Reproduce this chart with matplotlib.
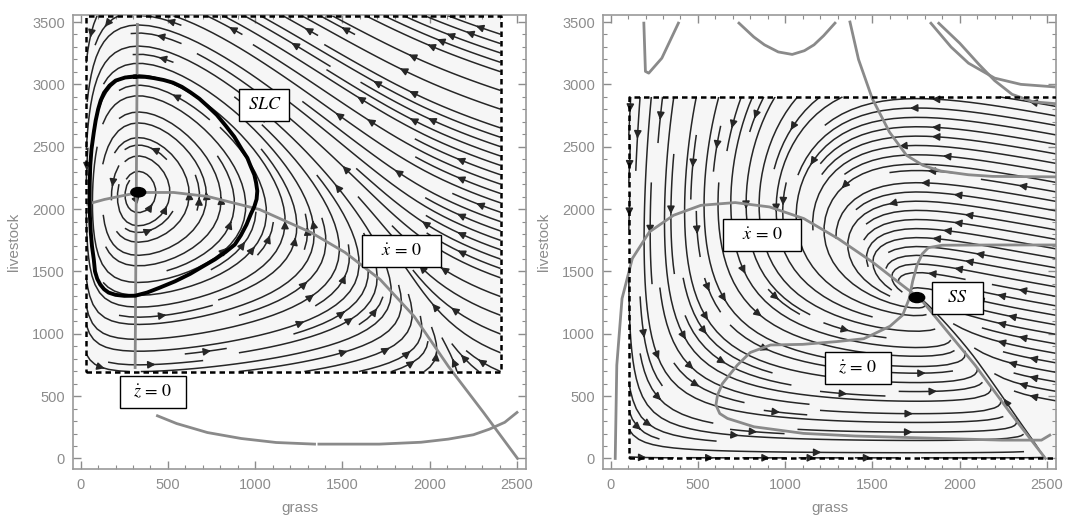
import matplotlib
matplotlib.use("Agg")

import matplotlib.pyplot as plt
import numpy as np
from matplotlib.patches import Ellipse, Rectangle

# ---------------- left panel: stable limit cycle ----------------
left_xdot_x = [40, 136, 331, 533, 728, 1024, 1320, 1515, 1716, 1911, 2107, 2308, 2503]
left_xdot_y = [2040, 2077, 2133, 2133, 2101, 1997, 1812, 1652, 1435, 1139, 738, 369, 0]

left_zdot_x = [312, 325]
left_zdot_y = [729, 3481]

left_low_a_x = [440, 550, 726, 920, 1120, 1340]
left_low_a_y = [342, 280, 208, 160, 128, 115]
left_low_b_x = [1365, 1711, 1950, 2106, 2250, 2342, 2430, 2500]
left_low_b_y = [115, 115, 130, 155, 190, 235, 290, 369]

slc_x = [312, 370, 420, 475, 528, 580, 630, 680, 726, 780, 830, 880, 923, 955,
         975, 995, 1005, 1012, 1008, 995, 975, 950, 918, 883, 830, 770, 700,
         627, 540, 450, 380, 312, 250, 200, 160, 134, 112, 95, 82, 75, 65, 58,
         53, 51, 52, 55, 62, 75, 86, 100, 115, 134, 165, 200, 255, 312]
slc_y = [3062, 3060, 3050, 3035, 3014, 2980, 2935, 2885, 2827, 2755, 2670,
         2580, 2479, 2410, 2340, 2275, 2212, 2145, 2079, 2020, 1960, 1875,
         1790, 1715, 1655, 1597, 1540, 1480, 1420, 1368, 1330, 1305, 1304,
         1312, 1330, 1357, 1395, 1440, 1500, 1598, 1700, 1811, 1945, 2079,
         2215, 2350, 2480, 2613, 2710, 2800, 2872, 2933, 2990, 3030, 3055, 3062]

left_eq = (330, 2135)
left_box = [32, 2406, 697, 3552]   # x0, x1, y0, y1

left_labels = ["$SLC$", r"$\dot{x}\,=\,0$", r"$\dot{z}\,=\,0$"]
left_label_x = [1052, 1838, 415]
left_label_y = [2835, 1667, 532]
left_label_w = [286, 450, 376]

# ---------------- right panel: stable steady state ----------------
right_xdot_x = [26, 35, 65, 124, 222, 360, 517, 713, 910, 1106, 1303, 1499,
                1695, 1774, 2088, 2285, 2491]
right_xdot_y = [0, 748, 1282, 1603, 1817, 1950, 2030, 2052, 2017, 1924, 1763,
                1576, 1363, 1282, 748, 374, 0]

right_zdot_x = [2560, 2200, 1900, 1820, 1785, 1755, 1730, 1710, 1673, 1600, 1450,
                1294, 1100, 916, 800, 726, 640, 612, 603, 625, 669, 821, 1105,
                1400, 1673, 2241, 2468, 2516]
right_zdot_y = [1712, 1712, 1710, 1690, 1640, 1550, 1420, 1280, 1150, 1060, 960,
                937, 915, 910, 850, 749, 600, 508, 428, 360, 321, 254, 201, 180,
                169, 147, 147, 187]

right_upper_x = [1371, 1420, 1499, 1597, 1695, 1790, 1892, 2050, 2187, 2560]
right_upper_y = [3500, 3200, 2885, 2618, 2431, 2350, 2305, 2275, 2262, 2258]

right_v_x = [190, 199, 218, 293, 388]
right_v_y = [3491, 3104, 3090, 3210, 3491]

right_u_x = [735, 820, 881, 960, 1040, 1110, 1165, 1220, 1285]
right_u_y = [3491, 3380, 3317, 3260, 3240, 3270, 3317, 3390, 3491]

right_arc1_x = [1835, 1950, 2050, 2200, 2350, 2540]
right_arc1_y = [3490, 3300, 3170, 3050, 3000, 2980]

right_arc2_x = [1880, 2000, 2110, 2200, 2300, 2420, 2550]
right_arc2_y = [3490, 3330, 3160, 3030, 2920, 2860, 2845]

right_eq = (1755, 1290)
right_box = [104, 2560, 5, 2899]

right_labels = [r"$\dot{x}\,=\,0$", "$SS$", r"$\dot{z}\,=\,0$"]
right_label_x = [867, 1985, 1417]
right_label_y = [1795, 1290, 727]
right_label_w = [446, 293, 379]

# ---------------- style ----------------
plt.rcParams["mathtext.fontset"] = "stix"
plt.rcParams["font.family"] = ["Liberation Sans", "DejaVu Sans"]

GREY = "#8c8c8c"
NULL_C = "#8a8a8a"
STREAM_C = "#262626"
XLIM = (-42, 2552)
YLIM = (-87, 3556)


def style_axes(ax):
    ax.set_xlim(*XLIM)
    ax.set_ylim(*YLIM)
    ax.set_xticks(np.arange(0, 2501, 500))
    ax.set_yticks(np.arange(0, 3501, 500))
    ax.set_xticks(np.arange(0, 2551, 100), minor=True)
    ax.set_yticks(np.arange(0, 3551, 100), minor=True)
    ax.tick_params(which="both", direction="in", top=True, right=True,
                   color=GREY, labelcolor=GREY, labelsize=10.5)
    ax.tick_params(which="major", length=6, width=1.0)
    ax.tick_params(which="minor", length=3, width=0.8)
    ax.tick_params(axis="x", pad=6)
    ax.tick_params(axis="y", pad=6)
    for s in ax.spines.values():
        s.set_color("#9a9a9a")
        s.set_linewidth(1.2)
    ax.set_xlabel("grass", color=GREY, fontsize=11, labelpad=7)
    ax.set_ylabel("livestock", color=GREY, fontsize=11, labelpad=8)


def draw_region(ax, box):
    x0, x1, y0, y1 = box
    ax.add_patch(Rectangle((x0, y0), x1 - x0, y1 - y0, facecolor="#f6f6f6",
                           edgecolor="none", zorder=0))
    ax.plot([x0, x1, x1, x0, x0], [y0, y0, y1, y1, y0], color="black",
            lw=1.8, ls=(0, (2.2, 1.6)), zorder=4)


def draw_streams(ax, box, field):
    x0, x1, y0, y1 = box
    gx = np.linspace(x0, min(x1, XLIM[1]), 140)
    gy = np.linspace(y0, y1, 140)
    X, Y = np.meshgrid(gx, gy)
    U, V = field(X, Y)
    kw = dict(color=STREAM_C, linewidth=1.1, arrowsize=1.1, density=1.3,
              zorder=2)
    try:
        ax.streamplot(X, Y, U, V, num_arrows=6, **kw)
    except TypeError:
        ax.streamplot(X, Y, U, V, **kw)


def draw_labels(ax, texts, xs, ys, ws, h=256):
    for t, x, y, w in zip(texts, xs, ys, ws):
        ax.add_patch(Rectangle((x - w / 2, y - h / 2), w, h, facecolor="white",
                               edgecolor="black", lw=1.0, zorder=6))
        ax.text(x, y, t, ha="center", va="center", fontsize=13, zorder=7)


def left_field(X, Y):
    h = np.interp(X, left_xdot_x, left_xdot_y)
    return 2.0 * X * (h - Y), Y * (X - left_eq[0])


def right_field(X, Y):
    g = np.interp(X, right_xdot_x, right_xdot_y)
    return 1.2 * X * (g - Y), Y * (X - right_eq[0])


fig = plt.figure(figsize=(10.66, 5.18), dpi=100)
ax1 = fig.add_axes([0.0688, 0.094, 0.4247, 0.877])
ax2 = fig.add_axes([0.566, 0.094, 0.4247, 0.877])

# left
draw_region(ax1, left_box)
draw_streams(ax1, left_box, left_field)
ax1.plot(left_xdot_x, left_xdot_y, color=NULL_C, lw=2, zorder=3)
ax1.plot(left_zdot_x, left_zdot_y, color=NULL_C, lw=2, zorder=3)
ax1.plot(left_low_a_x, left_low_a_y, color=NULL_C, lw=2, zorder=3)
ax1.plot(left_low_b_x, left_low_b_y, color=NULL_C, lw=2, zorder=3)
ax1.plot(slc_x, slc_y, color="black", lw=2.8, zorder=5, solid_joinstyle="round")
ax1.add_patch(Ellipse(left_eq, 85, 75, color="black", zorder=5))
draw_labels(ax1, left_labels, left_label_x, left_label_y, left_label_w)
style_axes(ax1)

# right
draw_region(ax2, right_box)
draw_streams(ax2, right_box, right_field)
for xs, ys in [(right_xdot_x, right_xdot_y), (right_zdot_x, right_zdot_y),
               (right_upper_x, right_upper_y), (right_v_x, right_v_y),
               (right_u_x, right_u_y), (right_arc1_x, right_arc1_y),
               (right_arc2_x, right_arc2_y)]:
    ax2.plot(xs, ys, color=NULL_C, lw=2, zorder=3)
ax2.add_patch(Ellipse(right_eq, 88, 80, color="black", zorder=5))
draw_labels(ax2, right_labels, right_label_x, right_label_y, right_label_w)
style_axes(ax2)

fig.savefig("out.png", dpi=100)
plt.close(fig)
